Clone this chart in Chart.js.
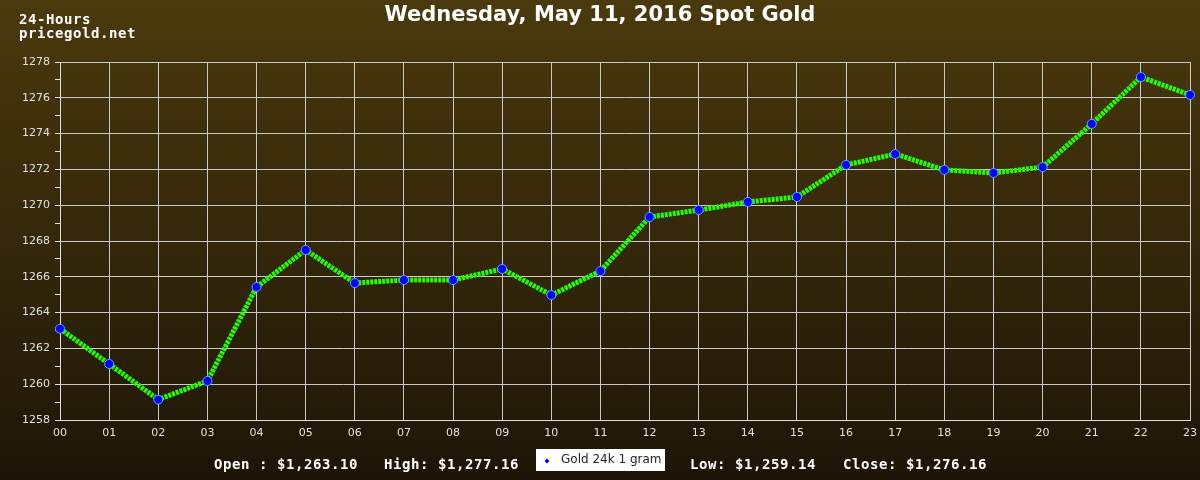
<!DOCTYPE html>
<html>
<head>
<meta charset="utf-8">
<script src="https://cdn.jsdelivr.net/npm/chart.js@4.4.0/dist/chart.umd.min.js"></script>
<style>
html, body { margin: 0; padding: 0; background: #1e1508; }
#wrap { width: 1200px; height: 480px; }
</style>
</head>
<body>
<div id="wrap"><canvas id="goldChart" width="1200" height="480"></canvas></div>
<script>
// hourly spot gold
const hours = ['00','01','02','03','04','05','06','07','08','09','10','11',
               '12','13','14','15','16','17','18','19','20','21','22','23'];
const prices = [1263.10, 1261.13, 1259.14, 1260.18, 1265.43, 1267.50, 1265.65, 1265.82,
                1265.82, 1266.44, 1264.98, 1266.32, 1269.34, 1269.73, 1270.18, 1270.46,
                1272.25, 1272.86, 1271.97, 1271.80, 1272.13, 1274.54, 1277.16, 1276.16];
const yMin = 1258;
const yMax = 1278;
const summaryLabels = ['Open :', 'High:', 'Low:', 'Close:'];
const summaryValues = ['$1,263.10', '$1,277.16', '$1,259.14', '$1,276.16'];
const seriesName = 'Gold 24k 1 gram';
const titleText = 'Wednesday, May 11, 2016 Spot Gold';
const cornerText = ['24-Hours', 'pricegold.net'];

// draw monospace text with a fixed advance per character
function monoText(ctx, str, x, y, adv) {
    for (let i = 0; i < str.length; i++) {
        ctx.fillText(str[i], x + i * adv, y);
    }
}

const decorPlugin = {
    id: 'decor',
    beforeDraw(chart) {
        const ctx = chart.ctx;
        const g = ctx.createLinearGradient(0, 0, 0, chart.height);
        g.addColorStop(0, '#4b3a0d');
        g.addColorStop(1, '#1e1508');
        ctx.save();
        ctx.fillStyle = g;
        ctx.fillRect(0, 0, chart.width, chart.height);
        ctx.restore();
    },
    afterDraw(chart) {
        const ctx = chart.ctx;
        ctx.save();
        // title
        ctx.fillStyle = '#ffffff';
        ctx.font = 'bold 21px "DejaVu Sans"';
        ctx.textAlign = 'center';
        ctx.textBaseline = 'alphabetic';
        ctx.fillText(titleText, 600, 21);

        // corner text
        ctx.textAlign = 'left';
        ctx.font = 'bold 14px "DejaVu Sans Mono"';
        monoText(ctx, cornerText[0], 19, 24, 9);
        monoText(ctx, cornerText[1], 19, 38, 9);

        // summary line
        const xs = [214, 384, 690, 843];
        summaryLabels.forEach((lab, i) => {
            monoText(ctx, lab + ' ' + summaryValues[i], xs[i], 469, 9);
        });

        // legend box
        ctx.fillStyle = '#ffffff';
        ctx.fillRect(536, 449, 129, 22);
        ctx.fillStyle = '#0000ff';
        ctx.beginPath();
        ctx.moveTo(547, 458.5);
        ctx.lineTo(549.5, 461);
        ctx.lineTo(547, 463.5);
        ctx.lineTo(544.5, 461);
        ctx.closePath();
        ctx.fill();
        ctx.fillStyle = '#222222';
        ctx.font = '12px "DejaVu Sans"';
        ctx.textBaseline = 'middle';
        ctx.fillText(seriesName, 561, 460);
        ctx.restore();
    }
};

new Chart(document.getElementById('goldChart'), {
    type: 'line',
    data: {
        labels: hours,
        datasets: [{
            label: seriesName,
            data: prices,
            borderColor: '#22ff00',
            borderWidth: 5,
            borderDash: [3, 1],
            tension: 0,
            pointRadius: 4.5,
            pointBackgroundColor: '#0000ff',
            pointBorderColor: '#55aaff',
            pointBorderWidth: 1
        }]
    },
    options: {
        responsive: false,
        animation: false,
        devicePixelRatio: 1,
        layout: { padding: { top: 62, right: 10, left: 0, bottom: 0 } },
        plugins: {
            legend: { display: false },
            tooltip: { enabled: false }
        },
        scales: {
            x: {
                offset: false,
                grid: { color: '#c8c8c8', drawTicks: false },
                border: { color: '#e0e0e0' },
                ticks: {
                    color: '#e0e0e0',
                    font: { family: '"DejaVu Sans"', size: 11 },
                    padding: 7,
                    maxRotation: 0,
                    autoSkip: false
                },
                afterFit(scale) {
                    scale.height = 60;
                    scale.paddingLeft = 0;
                    scale.paddingRight = 0;
                }
            },
            y: {
                min: yMin,
                max: yMax,
                grid: {
                    color: c => (c.tick && c.tick.value % 2 === 0) ? '#c8c8c8' : 'rgba(0,0,0,0)',
                    tickColor: '#e0e0e0',
                    tickLength: 5
                },
                border: { color: '#e0e0e0' },
                ticks: {
                    stepSize: 1,
                    autoSkip: false,
                    color: '#e0e0e0',
                    font: { family: '"DejaVu Sans"', size: 11 },
                    padding: 5,
                    callback: v => (v % 2 === 0 ? String(v) : '')
                },
                afterFit(scale) { scale.width = 60; }
            }
        }
    },
    plugins: [decorPlugin]
});
</script>
</body>
</html>
